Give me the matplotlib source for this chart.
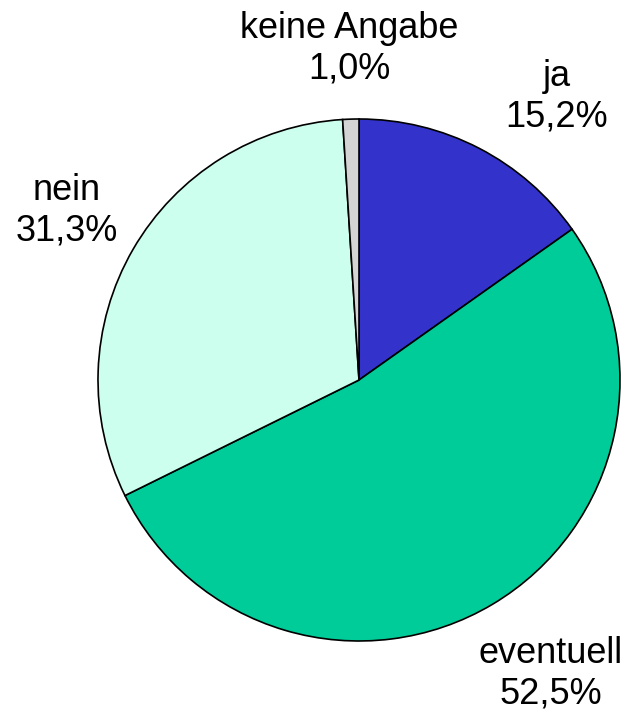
import matplotlib.pyplot as plt

plt.rcParams['font.family'] = ['Liberation Sans', 'DejaVu Sans']

# Antworten und Anteile in Prozent (im Uhrzeigersinn ab 12 Uhr)
categories = ["ja", "eventuell", "nein", "keine Angabe"]
shares = [15.2, 52.5, 31.3, 1.0]
colors = ["#3333CC", "#00CC99", "#CCFFEE", "#D4D4D4"]

# Beschriftungspositionen (Pixel, Ursprung unten links)
label_pos = {
    "ja": (557, 614),
    "eventuell": (551, 37),
    "nein": (67, 500),
    "keine Angabe": (349, 662),
}

fig = plt.figure(figsize=(6.3, 7.11), dpi=100)
ax = fig.add_axes([0, 0, 1, 1])

ax.pie(shares, colors=colors, startangle=90, counterclock=False,
       center=(359, 331), radius=261, frame=True,
       wedgeprops=dict(edgecolor="black", linewidth=1.2))
ax.set_xlim(0, 630)
ax.set_ylim(0, 711)
ax.set_aspect("equal")
ax.axis("off")

for cat, val in zip(categories, shares):
    x, y = label_pos[cat]
    txt = f"{cat}\n{val:.1f}%".replace(".", ",")
    ax.text(x, y, txt, ha="center", va="center", fontsize=26,
            linespacing=1.2)

fig.savefig("out.png", dpi=100)
